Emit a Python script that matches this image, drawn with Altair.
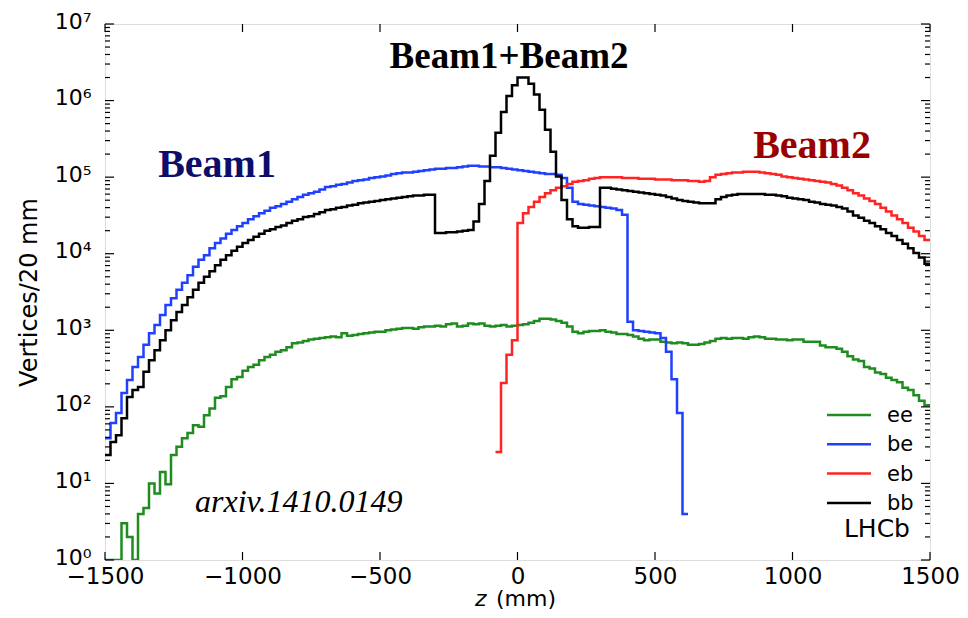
import altair as alt
import pandas as pd

BIN_WIDTH = 20
Z_MIN, Z_MAX = -1500, 1500

# log10(vertices / 20 mm) read per 20 mm bin
ee_start = -1500
ee_log10 = [
    0.00, 0.00, 0.00, 0.48, 0.30, 0.00, 0.60, 0.68, 1.00, 0.87,
    1.15, 0.99, 1.37, 1.48, 1.59, 1.66, 1.76, 1.74, 1.89, 1.98,
    2.12, 2.14, 2.26, 2.36, 2.39, 2.47, 2.52, 2.55, 2.61, 2.65,
    2.68, 2.72, 2.74, 2.78, 2.83, 2.84, 2.86, 2.88, 2.89, 2.90,
    2.91, 2.92, 2.91, 2.96, 2.93, 2.94, 2.95, 2.96, 2.97, 2.98,
    2.98, 3.00, 3.01, 3.02, 3.03, 3.03, 3.02, 3.04, 3.05, 3.05,
    3.06, 3.05, 3.08, 3.09, 3.05, 3.06, 3.09, 3.08, 3.09, 3.06,
    3.05, 3.06, 3.07, 3.05, 3.06, 3.07, 3.08, 3.10, 3.12, 3.15,
    3.15, 3.14, 3.12, 3.10, 3.05, 2.98, 2.96, 2.98, 2.99, 2.99,
    3.00, 2.98, 2.97, 2.95, 2.95, 2.94, 2.92, 2.89, 2.87, 2.88,
    2.88, 2.85, 2.84, 2.83, 2.84, 2.83, 2.81, 2.81, 2.82, 2.84,
    2.86, 2.89, 2.90, 2.89, 2.90, 2.90, 2.89, 2.91, 2.92, 2.91,
    2.89, 2.89, 2.88, 2.88, 2.87, 2.88, 2.88, 2.85, 2.85, 2.85,
    2.80, 2.78, 2.78, 2.76, 2.72, 2.66, 2.62, 2.60, 2.52, 2.50,
    2.45, 2.43, 2.38, 2.35, 2.32, 2.25, 2.22, 2.15, 2.08, 2.02,
]

be_start = -1500
be_log10 = [
    1.59, 1.79, 1.92, 2.18, 2.35, 2.52, 2.65, 2.81, 2.96, 3.07,
    3.20, 3.33, 3.42, 3.53, 3.62, 3.72, 3.83, 3.92, 3.98, 4.07,
    4.14, 4.20, 4.26, 4.31, 4.36, 4.40, 4.45, 4.49, 4.53, 4.56,
    4.60, 4.62, 4.65, 4.68, 4.71, 4.74, 4.77, 4.79, 4.81, 4.84,
    4.87, 4.88, 4.90, 4.91, 4.93, 4.95, 4.96, 4.97, 4.99, 5.00,
    5.01, 5.02, 5.04, 5.05, 5.06, 5.06, 5.07, 5.08, 5.09, 5.10,
    5.11, 5.11, 5.12, 5.12, 5.13, 5.14, 5.15, 5.15, 5.14, 5.14,
    5.13, 5.13, 5.12, 5.11, 5.10, 5.09, 5.08, 5.07, 5.06, 5.05,
    5.04, 5.04, 5.03, 4.99, 4.86, 4.68, 4.65, 4.64, 4.63, 4.62,
    4.61, 4.60, 4.59, 4.57, 4.51, 3.11, 3.00, 2.99, 2.98, 2.97,
    2.96, 2.90, 2.72, 2.36, 1.92, 0.60,
]

eb_start = -80
eb_log10 = [
    1.41, 2.31, 2.68, 2.87, 4.40, 4.53, 4.61, 4.68, 4.74,
    4.79, 4.83, 4.86, 4.88, 4.91, 4.94, 4.95, 4.96, 4.98, 4.99,
    5.00, 5.00, 5.00, 5.00, 4.99, 4.99, 4.99, 4.98, 4.98, 4.98,
    4.97, 4.97, 4.97, 4.96, 4.96, 4.96, 4.95, 4.95, 4.94, 4.95,
    5.00, 5.03, 5.04, 5.05, 5.06, 5.06, 5.07, 5.07, 5.07, 5.06,
    5.05, 5.04, 5.03, 5.01, 5.00, 4.99, 4.98, 4.97, 4.96, 4.95,
    4.94, 4.93, 4.91, 4.89, 4.86, 4.83, 4.79, 4.76, 4.72, 4.69,
    4.65, 4.60, 4.55, 4.50, 4.45, 4.40, 4.34, 4.29, 4.23, 4.18,
]

bb_start = -1500
bb_log10 = [
    1.37, 1.54, 1.63, 1.85, 2.13, 2.22, 2.26, 2.46, 2.61, 2.74,
    2.87, 3.00, 3.13, 3.24, 3.33, 3.43, 3.53, 3.62, 3.70, 3.77,
    3.85, 3.92, 3.98, 4.04, 4.09, 4.14, 4.18, 4.22, 4.26, 4.30,
    4.32, 4.35, 4.37, 4.40, 4.43, 4.45, 4.48, 4.49, 4.52, 4.54,
    4.57, 4.58, 4.60, 4.61, 4.63, 4.64, 4.66, 4.67, 4.68, 4.69,
    4.70, 4.71, 4.72, 4.73, 4.74, 4.75, 4.76, 4.76, 4.77, 4.77,
    4.27, 4.27, 4.28, 4.28, 4.29, 4.30, 4.31, 4.42, 4.65, 4.95,
    5.28, 5.58, 5.85, 6.06, 6.20, 6.30, 6.30, 6.22, 6.08, 5.88,
    5.62, 5.33, 5.01, 4.70, 4.45, 4.36, 4.34, 4.34, 4.35, 4.35,
    4.86, 4.86, 4.85, 4.84, 4.83, 4.82, 4.81, 4.80, 4.79, 4.78,
    4.77, 4.76, 4.74, 4.72, 4.70, 4.69, 4.68, 4.67, 4.66, 4.66,
    4.66, 4.71, 4.74, 4.76, 4.77, 4.78, 4.78, 4.78, 4.78, 4.78,
    4.77, 4.77, 4.76, 4.75, 4.73, 4.72, 4.71, 4.70, 4.68, 4.67,
    4.65, 4.64, 4.63, 4.61, 4.59, 4.55, 4.50, 4.47, 4.43, 4.40,
    4.36, 4.32, 4.27, 4.23, 4.18, 4.13, 4.07, 4.01, 3.95, 3.87,
]

series_names = ["ee", "be", "eb", "bb"]
series_colors = ["#1e8c1e", "#2040ff", "#ff2424", "#000000"]
series_data = {
    "ee": (ee_start, ee_log10),
    "be": (be_start, be_log10),
    "eb": (eb_start, eb_log10),
    "bb": (bb_start, bb_log10),
}

x_ticks = [-1500, -1000, -500, 0, 500, 1000, 1500]
y_decades = [1, 10, 100, 1000, 10000, 100000, 1000000, 10000000]

rows = []
for name in series_names:
    start, logs = series_data[name]
    for i, v in enumerate(logs):
        rows.append({"series": name, "z": start + i * BIN_WIDTH, "count": 10 ** v, "k": i})
    rows.append({"series": name, "z": start + len(logs) * BIN_WIDTH,
                 "count": 10 ** logs[-1], "k": len(logs)})
df = pd.DataFrame(rows)

W, H = 825, 536
xscale = alt.Scale(domain=[Z_MIN, Z_MAX], nice=False, zero=False)
yscale = alt.Scale(type="log", domain=[1, 1e7], nice=False)

FONT = "DejaVu Sans"
SERIF = "Liberation Serif"

x_axis = alt.Axis(values=x_ticks, ticks=False, domain=False, grid=False, title=None,
                  labelFontSize=23, labelFont=FONT, labelColor="black",
                  labelPadding=5, labelFlush=False, labelOverlap=False,
                  labelExpr="datum.value < 0 ? '\u2212' + abs(datum.value) : '' + datum.value")
y_axis = alt.Axis(values=y_decades, ticks=False, domain=False, grid=False,
                  title="Vertices/20 mm", titleFontSize=24, titleFont=FONT,
                  titleFontWeight="normal", titleColor="black",
                  titleX=-76, titleY=H / 2, titleBaseline="middle", titleAlign="center",
                  labelFontSize=22, labelFont=FONT, labelColor="black", labelPadding=14,
                  labelOverlap=False, labelBaseline="middle", labelOffset=-3,
                  labelExpr="'10' + ['\u2070','\u00b9','\u00b2','\u00b3','\u2074','\u2075','\u2076','\u2077'][round(log(datum.value)/LN10)]")

lines = alt.Chart(df).mark_line(interpolate="step-after", strokeWidth=2.5, clip=True).encode(
    x=alt.X("z:Q", scale=xscale, axis=x_axis),
    y=alt.Y("count:Q", scale=yscale, axis=y_axis),
    color=alt.Color("series:N", scale=alt.Scale(domain=series_names, range=series_colors), legend=None),
    detail="series:N",
    order="k:Q",
)

xt = pd.DataFrame({"z": x_ticks})
y_minor = [d * m for d in y_decades[:-1] for m in range(2, 10)]
ymaj = pd.DataFrame({"count": y_decades})
ymin = pd.DataFrame({"count": y_minor})

def xtick(y0, y1):
    return alt.Chart(xt).mark_rule(color="black", strokeWidth=1.2).encode(
        x=alt.X("z:Q", scale=xscale, axis=x_axis), y=alt.value(y0), y2=alt.value(y1))

def ytick(data, x0, x1):
    return alt.Chart(data).mark_rule(color="black", strokeWidth=1.2).encode(
        y=alt.Y("count:Q", scale=yscale, axis=y_axis), x=alt.value(x0), x2=alt.value(x1))

ticks = [
    xtick(H, H - 8), xtick(0, 8),
    ytick(ymaj, 0, 9), ytick(ymaj, W, W - 9),
    ytick(ymin, 0, 5), ytick(ymin, W, W - 5),
]

def label(text, x, y, size, color="black", font=SERIF, weight="normal", style="normal", align="center"):
    return alt.Chart(pd.DataFrame({"t": [text]})).mark_text(
        font=font, fontSize=size, fontWeight=weight, fontStyle=style, color=color,
        align=align, baseline="alphabetic").encode(
        text="t:N", x=alt.value(x), y=alt.value(y))

texts = [
    label("Beam1", 112, 153, 40, color="#0d0d6b", weight="bold"),
    label("Beam1+Beam2", 404, 44, 37, weight="bold"),
    label("Beam2", 707, 134, 40, color="#9b0000", weight="bold"),
    label("arxiv.1410.0149", 90, 488, 32, style="italic", align="left"),
    label("LHCb", 805, 513, 25, font=FONT, align="right"),
    label("z", 370, 582, 22, font=FONT, style="italic", align="left"),
    label("(mm)", 391, 582, 22, font=FONT, align="left"),
]

legend_layers = []
for i, (name, col) in enumerate(zip(series_names, series_colors)):
    yy = 391 + i * 29.3
    legend_layers.append(
        alt.Chart(pd.DataFrame({"s": [name]})).mark_rule(color=col, strokeWidth=2.5).encode(
            x=alt.value(722), x2=alt.value(766), y=alt.value(yy)))
    legend_layers.append(label(name, 782, yy + 7, 21, font=FONT, align="left"))

chart = alt.layer(lines, *ticks, *texts, *legend_layers).properties(
    width=W, height=H,
    autosize=alt.AutoSizeParams(type="none"),
    padding={"left": 97, "top": 16, "right": 30, "bottom": 50},
).configure_view(stroke="black", strokeWidth=1.5).configure(background="white")

chart.save("out.html", embed_options={"renderer": "svg", "actions": False})
